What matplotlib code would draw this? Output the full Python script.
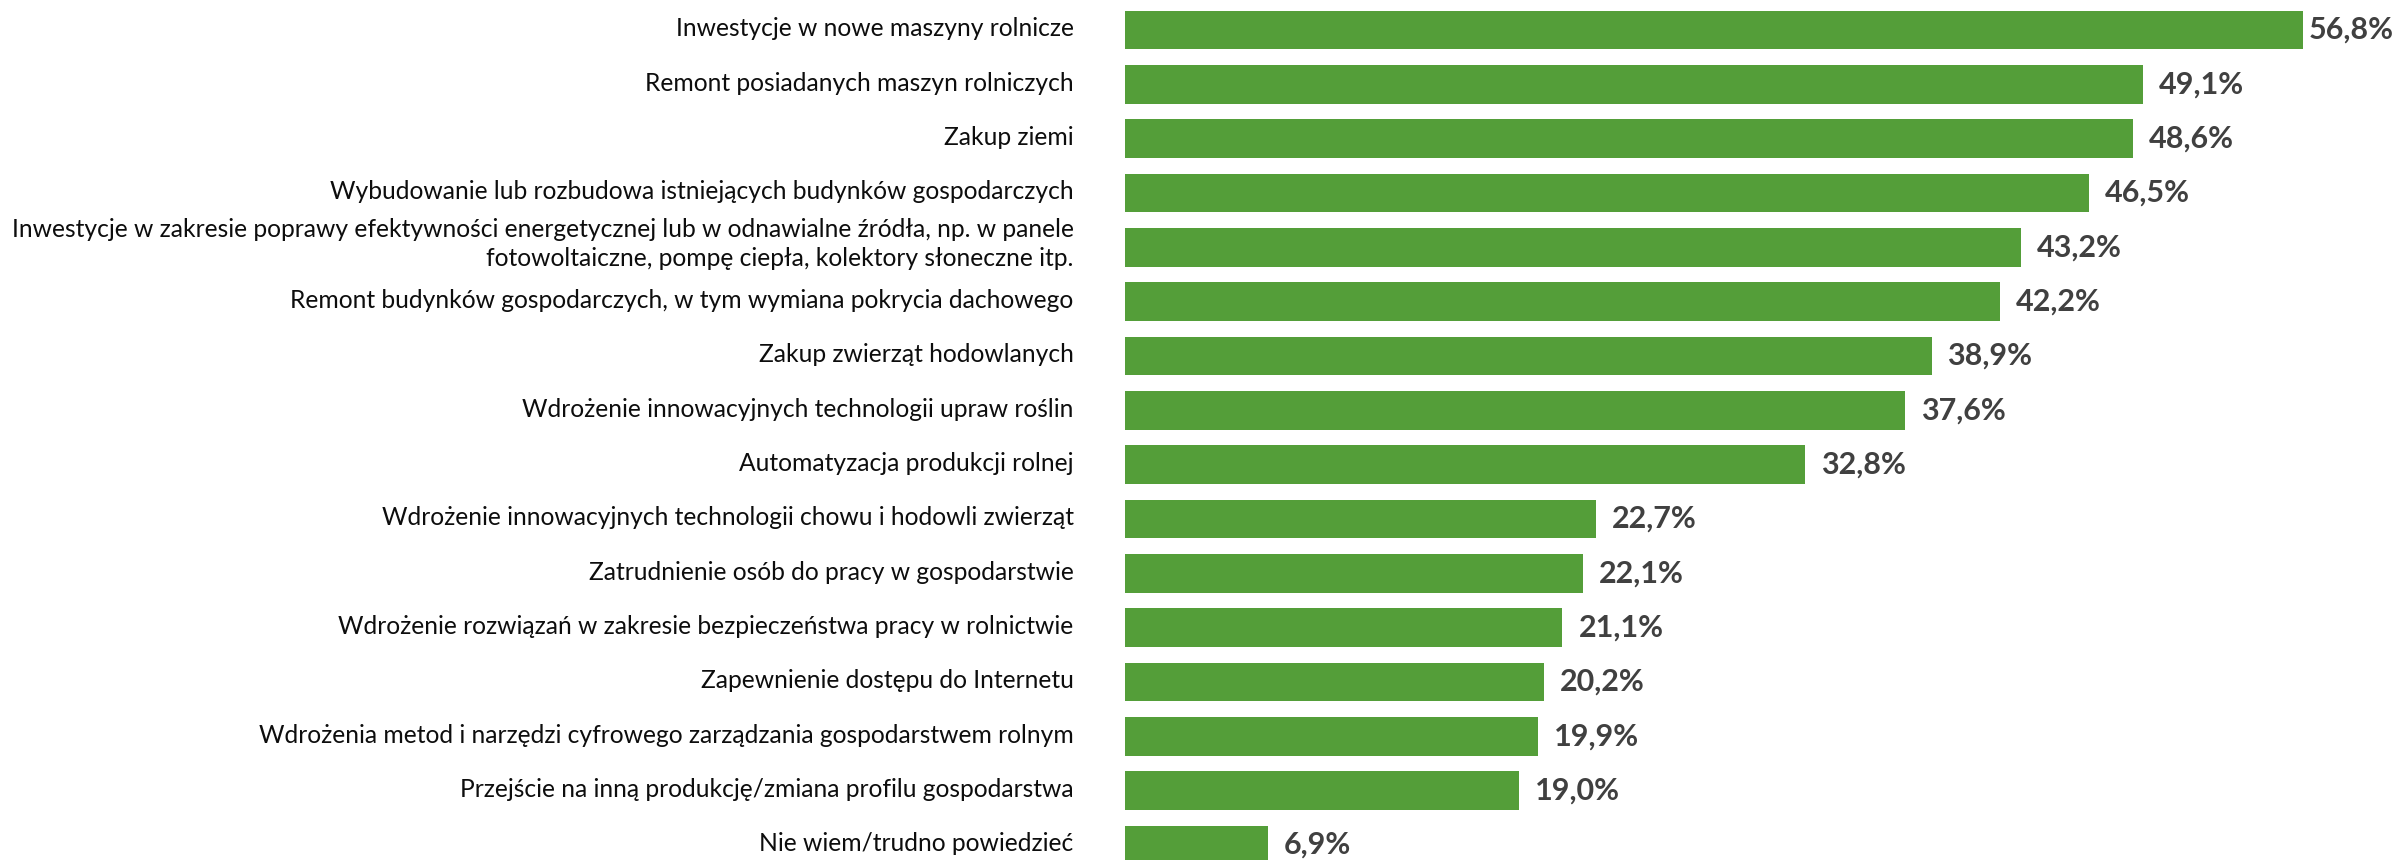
import matplotlib
matplotlib.use("Agg")
import matplotlib.pyplot as plt
from matplotlib import transforms

categories = [
    "Inwestycje w nowe maszyny rolnicze",
    "Remont posiadanych maszyn rolniczych",
    "Zakup ziemi",
    "Wybudowanie lub rozbudowa istniejących budynków gospodarczych",
    "Inwestycje w zakresie poprawy efektywności energetycznej lub w odnawialne źródła, np. w panele\nfotowoltaiczne, pompę ciepła, kolektory słoneczne itp.",
    "Remont budynków gospodarczych, w tym wymiana pokrycia dachowego",
    "Zakup zwierząt hodowlanych",
    "Wdrożenie innowacyjnych technologii upraw roślin",
    "Automatyzacja produkcji rolnej",
    "Wdrożenie innowacyjnych technologii chowu i hodowli zwierząt",
    "Zatrudnienie osób do pracy w gospodarstwie",
    "Wdrożenie rozwiązań w zakresie bezpieczeństwa pracy w rolnictwie",
    "Zapewnienie dostępu do Internetu",
    "Wdrożenia metod i narzędzi cyfrowego zarządzania gospodarstwem rolnym",
    "Przejście na inną produkcję/zmiana profilu gospodarstwa",
    "Nie wiem/trudno powiedzieć",
]
values = [56.8, 49.1, 48.6, 46.5, 43.2, 42.2, 38.9, 37.6, 32.8, 22.7, 22.1, 21.1, 20.2, 19.9, 19.0, 6.9]

W, H, DPI = 2399, 860, 100
FONT = ["Lato", "DejaVu Sans"]
fig = plt.figure(figsize=(W / DPI, H / DPI), dpi=DPI)
ax_left = 1125 / W
ax_right = 2369 / W
ax = fig.add_axes([ax_left, 0, ax_right - ax_left, 1])

y = list(range(len(categories)))
ax.barh(y, values, height=0.71, color="#549E39", edgecolor="none")
ax.set_xlim(0, 60)
ax.set_ylim(15.277, -0.552)

ax.set_yticks(y)
ax.set_yticklabels(categories, fontsize=17.7, family=FONT, color="#0d0d0d",
                   linespacing=1.30)
ax.tick_params(axis="y", length=0, pad=37)
ax.set_xticks([])
for s in ax.spines.values():
    s.set_visible(False)

up = transforms.ScaledTranslation(0, 3 / DPI, fig.dpi_scale_trans)
for lab in ax.get_yticklabels():
    extra = 5 if "\n" in lab.get_text() else 0
    lab.set_transform(lab.get_transform() + transforms.ScaledTranslation(0, (3 + extra) / DPI, fig.dpi_scale_trans))

fig.canvas.draw()
renderer = fig.canvas.get_renderer()
for yi, v in zip(y, values):
    off = transforms.offset_copy(ax.transData, fig=fig, x=16, y=0, units="dots")
    t = ax.text(v, yi, f"{v:.1f}%".replace(".", ","), transform=off, ha="left", va="center",
                fontsize=22, fontweight="bold", color="#404040", family=FONT)
    bb = t.get_window_extent(renderer)
    if bb.x1 > W - 6:
        shift = max(16 - (bb.x1 - (W - 6)), 6)
        t.set_transform(transforms.offset_copy(ax.transData, fig=fig, x=shift, y=0, units="dots"))

fig.savefig("out.png", dpi=DPI)
